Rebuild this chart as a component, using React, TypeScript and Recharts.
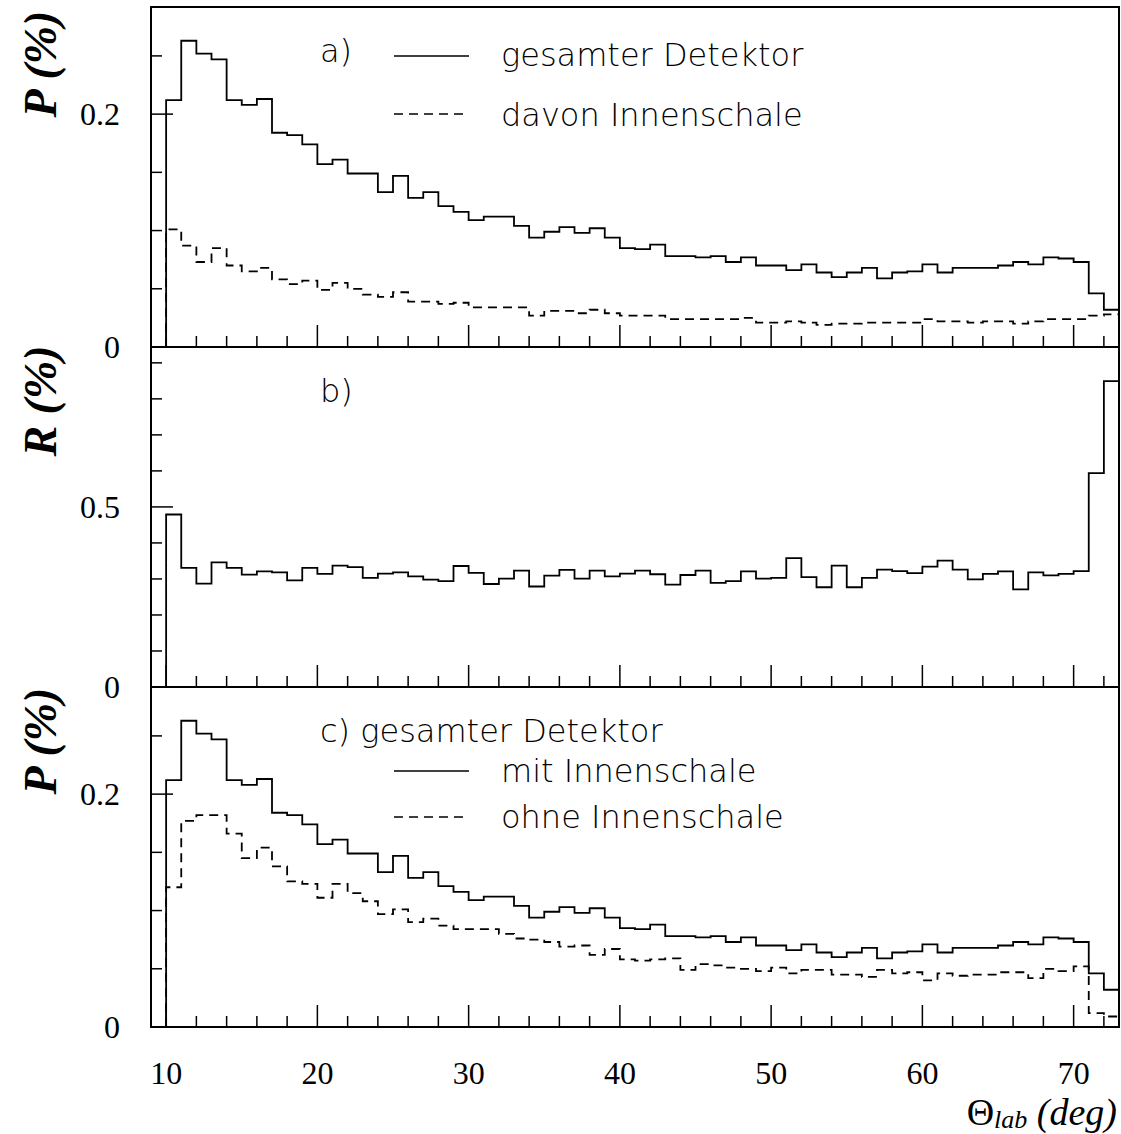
import React from "react";
import { LineChart, Line, XAxis, YAxis, ReferenceArea } from "recharts";

// bin lower edges 10..72 (1 deg bins)
const binStart = 10;
const binEnd = 73;

// panel a / c solid: gesamter Detektor (mit Innenschale)
const gesamt = [
  0.212, 0.263, 0.252, 0.247, 0.212, 0.208, 0.213, 0.184, 0.182, 0.174,
  0.157, 0.161, 0.149, 0.149, 0.133, 0.147, 0.128, 0.133, 0.121, 0.116,
  0.109, 0.112, 0.112, 0.104, 0.094, 0.099, 0.103, 0.098, 0.102, 0.094,
  0.085, 0.084, 0.088, 0.078, 0.078, 0.077, 0.078, 0.073, 0.077, 0.070,
  0.070, 0.066, 0.071, 0.064, 0.060, 0.064, 0.068, 0.059, 0.064, 0.065,
  0.071, 0.064, 0.068, 0.068, 0.068, 0.070, 0.073, 0.071, 0.077, 0.076,
  0.073, 0.046, 0.032,
];

// panel a dashed: davon Innenschale
const innen = [
  0.101, 0.087, 0.073, 0.085, 0.070, 0.065, 0.068, 0.058, 0.054, 0.057,
  0.049, 0.055, 0.050, 0.045, 0.043, 0.047, 0.039, 0.039, 0.037, 0.038,
  0.034, 0.034, 0.034, 0.034, 0.027, 0.031, 0.031, 0.029, 0.032, 0.029,
  0.027, 0.027, 0.027, 0.024, 0.024, 0.024, 0.024, 0.024, 0.025, 0.021,
  0.021, 0.022, 0.021, 0.019, 0.020, 0.020, 0.021, 0.021, 0.021, 0.021,
  0.024, 0.022, 0.022, 0.021, 0.022, 0.022, 0.020, 0.022, 0.024, 0.024,
  0.024, 0.027, 0.028,
];

// panel b: R (%)
const ratio = [
  0.479, 0.331, 0.287, 0.346, 0.331, 0.312, 0.321, 0.318, 0.296, 0.331,
  0.314, 0.337, 0.333, 0.303, 0.315, 0.318, 0.307, 0.298, 0.294, 0.336,
  0.317, 0.286, 0.301, 0.323, 0.279, 0.309, 0.325, 0.301, 0.323, 0.307,
  0.315, 0.323, 0.313, 0.284, 0.311, 0.323, 0.289, 0.294, 0.321, 0.301,
  0.303, 0.358, 0.305, 0.277, 0.337, 0.277, 0.303, 0.326, 0.322, 0.316,
  0.334, 0.351, 0.326, 0.299, 0.314, 0.321, 0.271, 0.318, 0.310, 0.314,
  0.322, 0.594, 0.849,
];

// panel c dashed: ohne Innenschale
const ohne = [
  0.120, 0.177, 0.182, 0.182, 0.166, 0.145, 0.154, 0.138, 0.125, 0.123,
  0.111, 0.123, 0.115, 0.108, 0.097, 0.101, 0.090, 0.093, 0.087, 0.084,
  0.084, 0.084, 0.080, 0.076, 0.075, 0.073, 0.069, 0.070, 0.062, 0.067,
  0.058, 0.057, 0.058, 0.059, 0.049, 0.054, 0.053, 0.051, 0.050, 0.048,
  0.051, 0.046, 0.049, 0.049, 0.045, 0.045, 0.043, 0.049, 0.046, 0.047,
  0.040, 0.046, 0.044, 0.045, 0.045, 0.047, 0.047, 0.042, 0.050, 0.048,
  0.052, 0.012, 0.009,
];

const xTicks = [10, 12, 14, 16, 18, 20, 22, 24, 26, 28, 30, 32, 34, 36, 38, 40,
  42, 44, 46, 48, 50, 52, 54, 56, 58, 60, 62, 64, 66, 68, 70, 72];
const xLabels = [10, 20, 30, 40, 50, 60, 70];
const pTicks = [0, 0.05, 0.1, 0.15, 0.2, 0.25];
const pLabels = [0, 0.2];
const rTicks = [0, 0.1, 0.2, 0.3, 0.4, 0.5, 0.6, 0.7, 0.8, 0.9];
const rLabels = [0, 0.5];

// step histogram rows: start at 0 on left edge, repeat last value at right edge
function histRows(series: Record<string, number[]>) {
  const keys = Object.keys(series);
  const rows: any[] = [];
  const first: any = { x: binStart };
  keys.forEach((k) => (first[k] = 0));
  rows.push(first);
  for (let i = 0; i < binEnd - binStart; i++) {
    const r: any = { x: binStart + i };
    keys.forEach((k) => (r[k] = series[k][i]));
    rows.push(r);
  }
  const last: any = { x: binEnd };
  keys.forEach((k) => (last[k] = series[k][series[k].length - 1]));
  rows.push(last);
  return rows;
}

const serif = "'Liberation Serif', 'Times New Roman', serif";
const thin = "'DejaVu Sans', sans-serif";

function YTick(props: any) {
  const { x, y, payload, labels, major } = props;
  const v = payload.value;
  const long = major.includes(v) || v === 0;
  const show = labels.includes(v);
  return (
    <g>
      <line x1={x} x2={x + (long ? 22 : 11)} y1={y} y2={y} stroke="#000" strokeWidth={1.5} />
      {show && (
        <text x={x - 31} y={y} dy="0.35em" textAnchor="end" fontFamily={serif} fontSize={32} fill="#000">
          {v}
        </text>
      )}
    </g>
  );
}

function XTick(props: any) {
  const { x, y, payload, showLabels } = props;
  const v = payload.value;
  const long = v % 10 === 0;
  return (
    <g>
      <line x1={x} x2={x} y1={y} y2={y - (long ? 22 : 11)} stroke="#000" strokeWidth={1.5} />
      {showLabels && xLabels.includes(v) && (
        <text x={x} y={y + 57} textAnchor="middle" fontFamily={serif} fontSize={32} fill="#000">
          {v}
        </text>
      )}
    </g>
  );
}

type PanelProps = {
  top: number;
  height: number;
  axisH: number;
  max: number;
  ticks: number[];
  labels: number[];
  major: number[];
  rows: any[];
  series: { key: string; dashed?: boolean }[];
  xLabelsOn?: boolean;
  z: number;
};

function Panel(p: PanelProps) {
  return (
    <div style={{ position: "absolute", left: 0, top: p.top, zIndex: p.z }}>
      <LineChart
        width={1121}
        height={p.height}
        data={p.rows}
        margin={{ top: 13, right: 2, bottom: 0, left: 0 }}
        style={{ overflow: "visible" }}
      >
        <XAxis
          dataKey="x"
          type="number"
          domain={[9, 73]}
          ticks={xTicks}
          allowDataOverflow
          height={p.axisH}
          axisLine={false}
          tickLine={false}
          tickSize={0}
          tickMargin={0}
          interval={0}
          tick={<XTick showLabels={p.xLabelsOn} />}
        />
        <YAxis
          type="number"
          domain={[0, p.max]}
          ticks={p.ticks}
          allowDataOverflow
          width={151}
          axisLine={false}
          tickLine={false}
          tickSize={0}
          tickMargin={0}
          interval={0}
          tick={<YTick labels={p.labels} major={p.major} />}
        />
        <ReferenceArea x1={9} x2={73} y1={0} y2={p.max} fill="none" stroke="#000" strokeWidth={2} />
        {p.series.map((s) => (
          <Line
            key={s.key}
            dataKey={s.key}
            type="stepAfter"
            stroke="#000"
            strokeWidth={1.8}
            strokeDasharray={s.dashed ? "9 6" : undefined}
            dot={false}
            activeDot={false}
            isAnimationActive={false}
          />
        ))}
      </LineChart>
    </div>
  );
}

function LegendRow({ y, ty, dashed, text }: { y: number; ty: number; dashed?: boolean; text: string }) {
  return (
    <g>
      <line x1={394} x2={469} y1={y} y2={y} stroke="#000" strokeWidth={1.5} strokeDasharray={dashed ? "9 6" : undefined} />
      <text x={501} y={ty} fontFamily={thin} fontWeight={200} fontSize={32} fill="#000">
        {text}
      </text>
    </g>
  );
}

export default function App() {
  const rowsA = histRows({ g: gesamt, i: innen });
  const rowsB = histRows({ r: ratio });
  const rowsC = histRows({ g: gesamt, o: ohne });
  const yTitle = (cy: number, t: string) => (
    <text
      transform={`translate(56, ${cy}) rotate(-90)`}
      textAnchor="middle"
      fontFamily={serif}
      fontStyle="italic"
      fontWeight="bold"
      fontSize={46}
      fill="#000"
    >
      {t}
    </text>
  );
  return (
    <div style={{ position: "absolute", left: 0, top: 0, width: 1121, height: 1134, background: "#fff" }}>
      {/* plot areas: a 7-347, b 347-687, c 687-1027 */}
      <Panel top={-6} height={378} axisH={25} max={0.292} ticks={pTicks} labels={pLabels} major={[0.2]} rows={rowsA}
        series={[{ key: "g" }, { key: "i", dashed: true }]} z={3} />
      <Panel top={334} height={378} axisH={25} max={0.944} ticks={rTicks} labels={rLabels} major={[0.5]} rows={rowsB}
        series={[{ key: "r" }]} z={2} />
      <Panel top={674} height={460} axisH={107} max={0.292} ticks={pTicks} labels={pLabels} major={[0.2]} rows={rowsC}
        series={[{ key: "g" }, { key: "o", dashed: true }]} xLabelsOn z={1} />
      <svg width={1121} height={1134} style={{ position: "absolute", left: 0, top: 0, pointerEvents: "none", zIndex: 4 }}>
        {yTitle(64, "P (%)")}
        {yTitle(401, "R (%)")}
        {yTitle(741, "P (%)")}
        <text x={320} y={62} fontFamily={thin} fontWeight={200} fontSize={32} fill="#000">a)</text>
        <LegendRow y={56} ty={66} text="gesamter Detektor" />
        <LegendRow y={114} ty={126} dashed text="davon Innenschale" />
        <text x={320} y={402} fontFamily={thin} fontWeight={200} fontSize={32} fill="#000">b)</text>
        <text x={320} y={742} fontFamily={thin} fontWeight={200} fontSize={32} fill="#000">c) gesamter Detektor</text>
        <LegendRow y={771} ty={782} text="mit Innenschale" />
        <LegendRow y={817} ty={828} dashed text="ohne Innenschale" />
        <text x={1117} y={1125} textAnchor="end" fontFamily={serif} fontSize={38} fill="#000">
          Θ
          <tspan fontStyle="italic" fontSize={26} dy={3}>lab</tspan>
          <tspan fontStyle="italic" fontSize={38} dy={-3}> (deg)</tspan>
        </text>
      </svg>
    </div>
  );
}
